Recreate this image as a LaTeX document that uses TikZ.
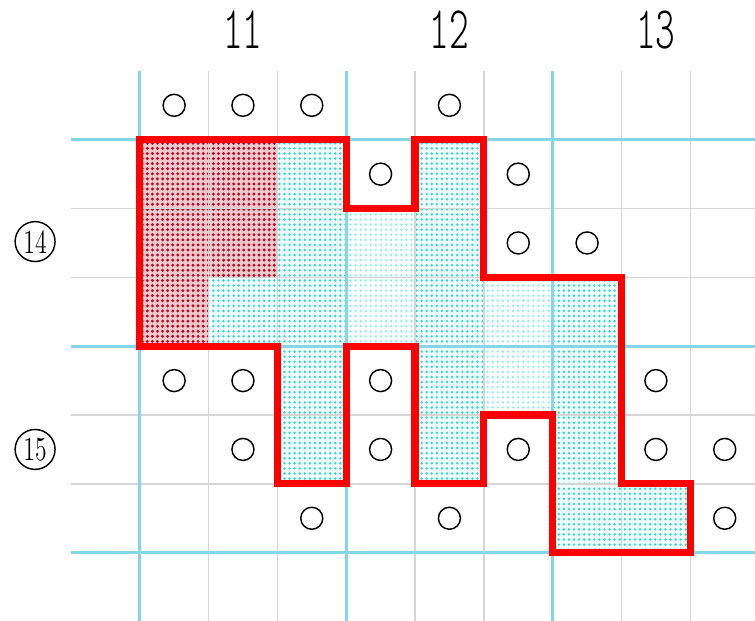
\documentclass[tikz,border=0pt]{standalone}
\usepackage{tikz}
\usetikzlibrary{patterns.meta}
\definecolor{GridBlue}{HTML}{86D6EA}
\definecolor{GridGray}{HTML}{D6D6D6}
\definecolor{ZoneRed}{HTML}{FF0000}
\definecolor{DotRed}{HTML}{B80C24}
\definecolor{DotCyan}{HTML}{2ED6D0}
\definecolor{DotPale}{HTML}{8CF0E4}

\begin{document}
\begin{tikzpicture}[
    minor/.style={GridGray, line width=0.6pt},
    major/.style={GridBlue, line width=1.2pt},
    outline/.style={ZoneRed, line width=3pt, line join=miter},
    hole/.style={draw=black, line width=0.6pt, circle, minimum size=0.32cm, inner sep=0pt},
    axislabel/.style={font=\fontseries{l}\ttfamily\fontsize{25}{26}\selectfont},
    rowlabel/.style={draw=black, line width=0.6pt, circle, minimum size=0.58cm, inner sep=0pt, font=\fontsize{14}{14}\selectfont},
    cyandots/.style={preaction={fill=DotCyan!8}, pattern={Dots[distance=2.1pt, radius=0.55pt]}, pattern color=DotCyan},
    reddots/.style={preaction={fill=DotRed!22}, pattern={Dots[distance=2.1pt, radius=0.68pt]}, pattern color=DotRed},
    paledots/.style={preaction={fill=white}, pattern={Dots[distance=2.1pt, radius=0.55pt]}, pattern color=DotPale},
  ]
    \useasboundingbox (-2.03,-0.99) rectangle (8.94,8.03);

    % zone fills
    \path[cyandots] (0,6) -- (3,6) -- (3,5) -- (4,5) -- (4,6) -- (5,6) -- (5,4) -- (7,4) -- (7,1) -- (8,1) -- (8,0) -- (6,0) -- (6,2) -- (5,2) -- (5,1) -- (4,1) -- (4,3) -- (3,3) -- (3,1) -- (2,1) -- (2,3) -- (0,3) -- cycle;
    \path[reddots] (0,3) -- (0,6) -- (2,6) -- (2,4) -- (1,4) -- (1,3) -- cycle;
    \path[paledots] (3,3) rectangle (4,5);
    \path[paledots] (5,2) rectangle (6,4);

    % grid
    \foreach \x in {1,2,4,5,7,8}
      \draw[minor] (\x,-0.99) -- (\x,7);
    \foreach \y in {1,2,4,5}
      \draw[minor] (-1,\y) -- (8.94,\y);
    \foreach \x in {0,3,6}
      \draw[major] (\x,-0.99) -- (\x,7);
    \foreach \y in {0,3,6}
      \draw[major] (-1,\y) -- (8.94,\y);

    % zone outline
    \draw[outline] (0,6) -- (3,6) -- (3,5) -- (4,5) -- (4,6) -- (5,6) -- (5,4) -- (7,4) -- (7,1) -- (8,1) -- (8,0) -- (6,0) -- (6,2) -- (5,2) -- (5,1) -- (4,1) -- (4,3) -- (3,3) -- (3,1) -- (2,1) -- (2,3) -- (0,3) -- cycle;

    % holes
    \foreach \c/\r in {0/6,1/6,2/6,4/6, 3/5,5/5, 5/4,6/4, 0/2,1/2,3/2,7/2, 1/1,3/1,5/1,7/1,8/1, 2/0,4/0,8/0}
      \node[hole] (h-\c-\r) at (\c+0.5,\r+0.5) {};

    % axis labels
    \node[axislabel] (col11) at (1.5,7.6) {\scalebox{0.62}[1]{11}};
    \node[axislabel] (col12) at (4.5,7.6) {\scalebox{0.62}[1]{12}};
    \node[axislabel] (col13) at (7.5,7.6) {\scalebox{0.62}[1]{13}};
    \node[rowlabel] (row14) at (-1.52,4.52) {\scalebox{0.7}[1]{14}};
    \node[rowlabel] (row15) at (-1.52,1.5) {\scalebox{0.7}[1]{15}};
  \end{tikzpicture}
\end{document}
